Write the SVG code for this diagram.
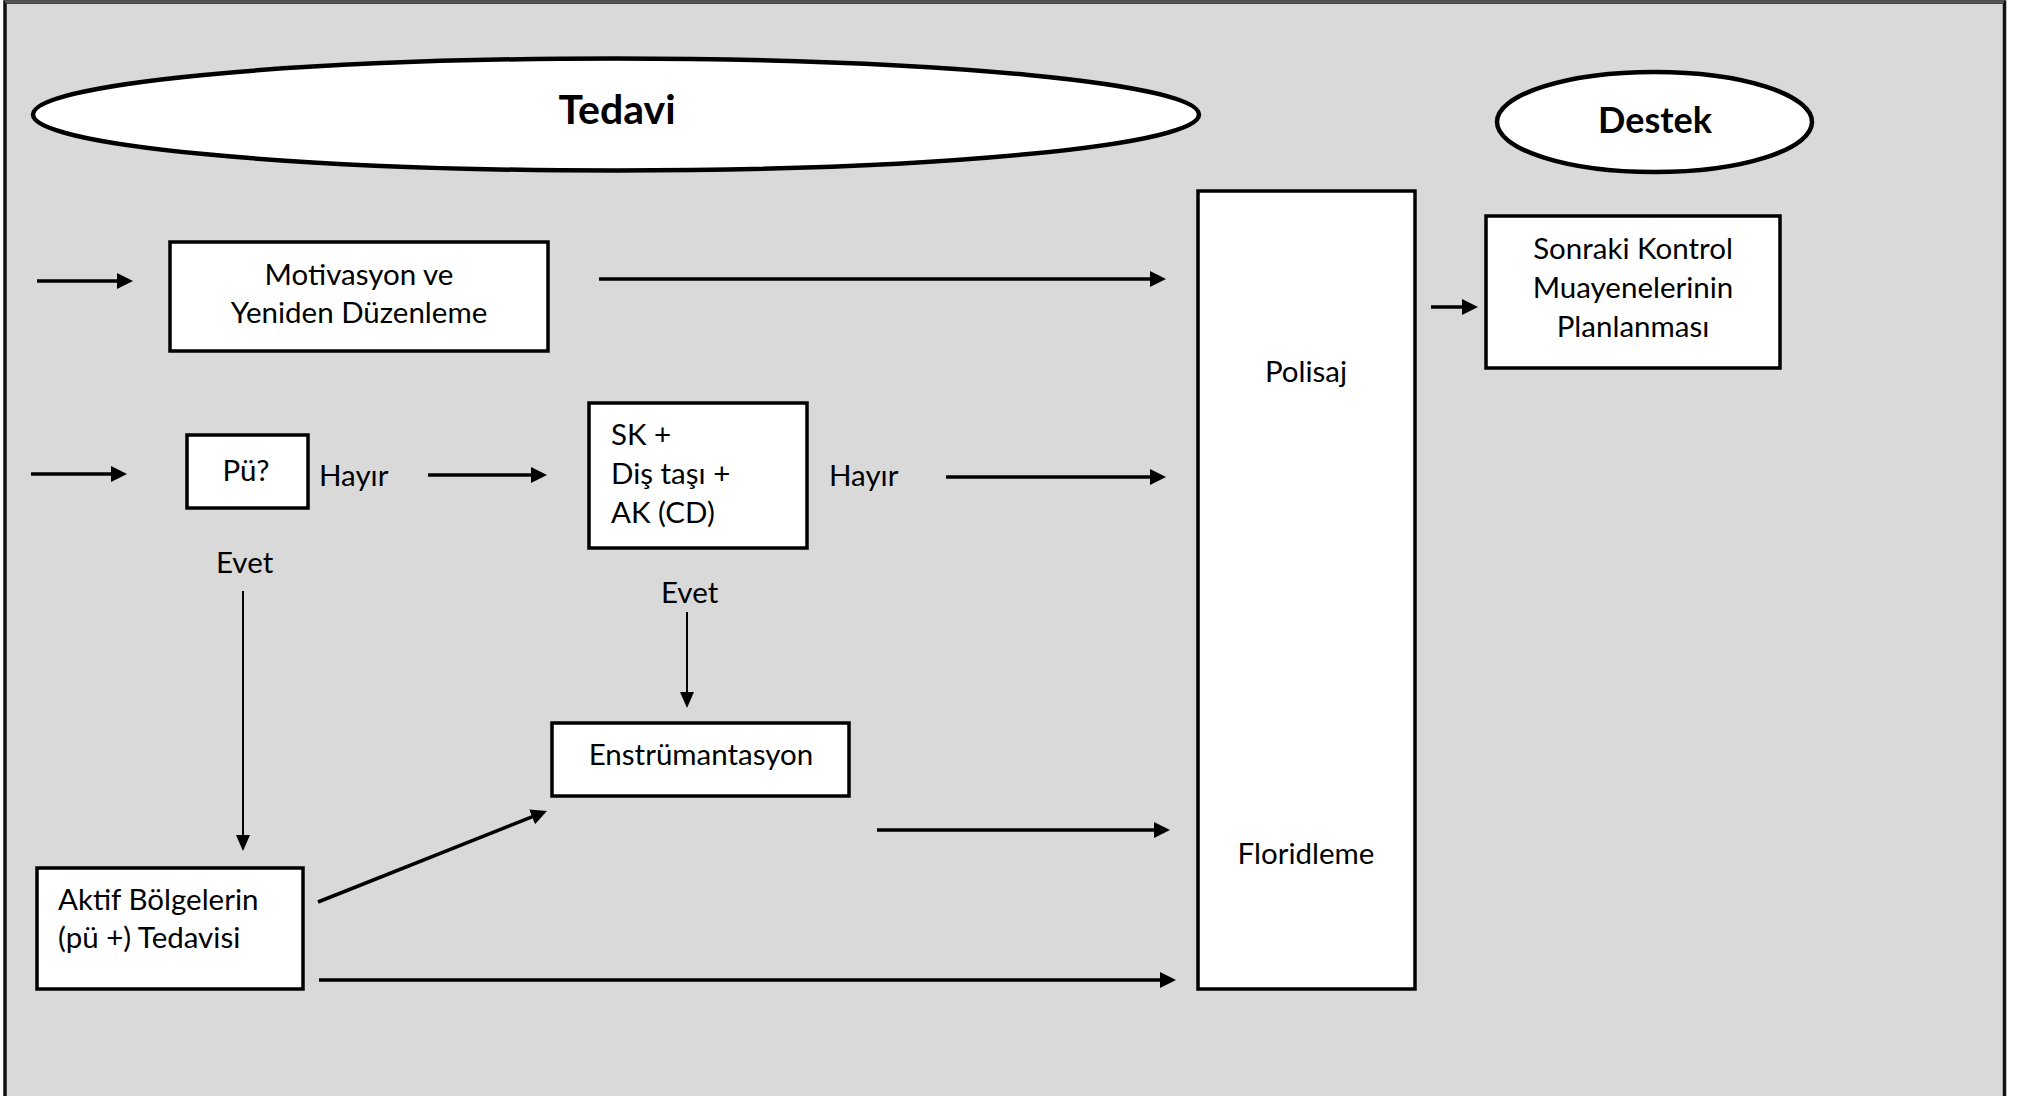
<svg xmlns="http://www.w3.org/2000/svg" width="2025" height="1096" viewBox="0 0 2025 1096">
  <style>
    .frame { fill: #d9d9d9; stroke: #111; stroke-width: 3.5; }
    .oval { fill: #fff; stroke: #000; stroke-width: 4.5; }
    .box { fill: #fff; stroke: #000; stroke-width: 3.5; }
    .title { font-family: Lato, "Liberation Sans", sans-serif; font-weight: bold; fill: #000; text-anchor: middle; }
    .t { font-family: Lato, "Liberation Sans", sans-serif; font-size: 29.5px; fill: #000; }
    .c { text-anchor: middle; }
    .thick { stroke: #000; stroke-width: 3.5; fill: none; marker-end: url(#head); }
    .thin { stroke: #000; stroke-width: 2; fill: none; marker-end: url(#headThin); }
  </style>
  <defs>
    <marker id="head" markerUnits="userSpaceOnUse" markerWidth="16" markerHeight="16" refX="8" refY="8" orient="auto">
      <path d="M0,0 L16,8 L0,16 Z" fill="#000"/>
    </marker>
    <marker id="headThin" markerUnits="userSpaceOnUse" markerWidth="16" markerHeight="14" refX="8" refY="7" orient="auto">
      <path d="M0,0 L16,7 L0,14 Z" fill="#000"/>
    </marker>
  </defs>

  <!-- page background and frame -->
  <rect x="0" y="0" width="2025" height="1096" fill="#fff"/>
  <rect class="frame" x="5" y="2" width="1999.5" height="1100"/>
  <line x1="5" y1="2" x2="2004" y2="2" stroke="#555" stroke-width="2.5"/>

  <!-- section headers -->
  <g id="tedavi">
    <ellipse class="oval" cx="616" cy="114.5" rx="583" ry="56"/>
    <text class="title" x="617" y="124" font-size="41">Tedavi</text>
  </g>
  <g id="destek">
    <ellipse class="oval" cx="1654.5" cy="122" rx="157.5" ry="50"/>
    <text class="title" x="1655" y="133" font-size="36">Destek</text>
  </g>

  <!-- nodes -->
  <g id="motivasyon">
    <rect class="box" x="170" y="242" width="378" height="109"/>
    <text class="t c" x="359" y="285">Motivasyon ve</text>
    <text class="t c" x="359" y="323">Yeniden Düzenleme</text>
  </g>
  <g id="pu">
    <rect class="box" x="187" y="435" width="121" height="73"/>
    <text class="t c" x="246" y="481" font-size="35">Pü?</text>
  </g>
  <g id="sk">
    <rect class="box" x="589" y="403" width="218" height="145"/>
    <text class="t" x="611" y="445">SK +</text>
    <text class="t" x="611" y="484">Diş taşı +</text>
    <text class="t" x="611" y="523">AK (CD)</text>
  </g>
  <g id="enstrumantasyon">
    <rect class="box" x="552" y="723" width="297" height="73"/>
    <text class="t c" x="701" y="765">Enstrümantasyon</text>
  </g>
  <g id="aktif">
    <rect class="box" x="37" y="868" width="266" height="121"/>
    <text class="t" x="58" y="910">Aktif Bölgelerin</text>
    <text class="t" x="58" y="948">(pü +) Tedavisi</text>
  </g>
  <g id="polisaj-floridleme">
    <rect class="box" x="1198" y="191" width="217" height="798"/>
    <text class="t c" x="1306" y="382" font-size="33">Polisaj</text>
    <text class="t c" x="1306" y="864" font-size="33">Floridleme</text>
  </g>
  <g id="sonraki">
    <rect class="box" x="1486" y="216" width="294" height="152"/>
    <text class="t c" x="1633" y="259">Sonraki Kontrol</text>
    <text class="t c" x="1633" y="298">Muayenelerinin</text>
    <text class="t c" x="1633" y="337">Planlanması</text>
  </g>

  <!-- edge labels -->
  <g id="labels">
    <text class="t" x="319" y="486" font-size="31">Hayır</text>
    <text class="t" x="829" y="486" font-size="31">Hayır</text>
    <text class="t" x="216" y="573">Evet</text>
    <text class="t" x="661" y="603">Evet</text>
  </g>

  <!-- connectors -->
  <g id="connectors">
    <line class="thick" x1="37" y1="281" x2="125" y2="281"/>
    <line class="thick" x1="599" y1="279" x2="1158" y2="279"/>
    <line class="thick" x1="31" y1="474" x2="119" y2="474"/>
    <line class="thick" x1="428" y1="475" x2="539" y2="475"/>
    <line class="thick" x1="946" y1="477" x2="1158" y2="477"/>
    <line class="thick" x1="1431" y1="307" x2="1470" y2="307"/>
    <line class="thin" x1="243" y1="591" x2="243" y2="843"/>
    <line class="thin" x1="687" y1="612" x2="687" y2="700"/>
    <line class="thick" x1="318" y1="902" x2="539.5" y2="813.9"/>
    <line class="thick" x1="877" y1="830" x2="1162" y2="830"/>
    <line class="thick" x1="319" y1="980" x2="1168" y2="980"/>
  </g>
</svg>
